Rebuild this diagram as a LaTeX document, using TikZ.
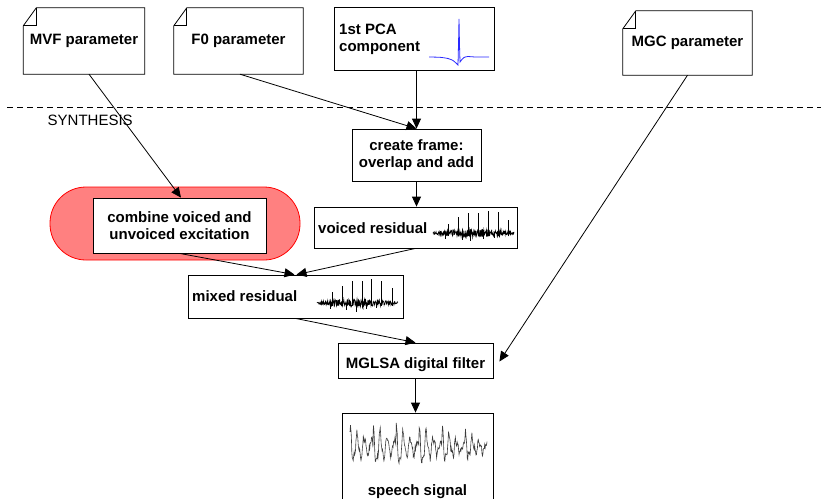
\documentclass[tikz,border=0pt]{standalone}
\usepackage{fontspec}
\setmainfont{Liberation Sans}
\usetikzlibrary{arrows.meta}
\definecolor{pillred}{RGB}{255,128,128}
\definecolor{pcablue}{RGB}{40,40,255}
\definecolor{speechgray}{RGB}{60,60,60}
\begin{document}
\begin{tikzpicture}[x=1pt,y=-1pt,
  declare function={ph(\t)=mod(\t-350,23)/23;},
  boxline/.style={draw=black,line width=0.8pt},
  box/.style={boxline,fill=white,inner sep=3pt,font=\fontsize{15}{17}\selectfont\bfseries,align=center},
  note/.style={inner sep=0pt,font=\fontsize{15}{17}\selectfont\bfseries,align=center},
  lab/.style={inner sep=0pt,font=\fontsize{15}{17}\selectfont\bfseries,align=left},
  conn/.style={line width=0.8pt,-{Triangle[length=10pt,width=9pt]}},
  wave/.style={line width=0.7pt},
]
\useasboundingbox (0,0) rectangle (821,498);
\clip (0,0) rectangle (821,498);

% dashed separator and label
\draw[line width=0.8pt,dash pattern=on 6pt off 4pt] (7,107.5) -- (821,107.5);
\node[anchor=west,inner sep=0pt,font=\fontsize{15}{17}\selectfont] (synth) at (47.5,120) {SYNTHESIS};

% note (parameter) boxes
\node[note,minimum width=121pt,minimum height=66pt] (mvf) at (84,41) {MVF parameter};
\node[note,minimum width=129pt,minimum height=66pt] (f0) at (238.5,41) {F0 parameter};
\node[note,minimum width=129pt,minimum height=64pt] (mgc) at (687.5,43) {MGC parameter};
\foreach \n in {mvf,f0,mgc}{
  \draw[boxline,line join=miter] ([yshift=-18pt]\n.north west) -- ([xshift=13pt]\n.north west) -- (\n.north east) -- (\n.south east) -- (\n.south west) -- cycle;
  \draw[boxline] ([yshift=-18pt]\n.north west) -- ([xshift=13pt,yshift=-18pt]\n.north west) -- ([xshift=13pt]\n.north west);
}

% PCA box
\node[boxline,minimum width=160pt,minimum height=63pt,inner sep=0pt] (pca) at (414,38.5) {};
\node[lab,anchor=west] (pcalab) at (339,39.5) {1st PCA\\component};
\draw[pcablue,line width=0.8pt] plot[smooth,tension=0.4] coordinates {(429,57) (440,57.3) (448,58.5) (453,60.5) (456.5,63.5) (458,65)} -- (458.6,40) -- (459,19) -- (459.5,45) -- (460,62) -- (461.5,60) plot[smooth,tension=0.4] coordinates {(461.5,60) (464,57.5) (468,56.5) (475,57) (489,57)};

% red pill
\node[draw=red,fill=pillred,line width=0.8pt,rounded corners=36pt,minimum width=250pt,minimum height=73pt,inner sep=0pt] (pill) at (175,223.5) {};
\node[box,minimum width=173pt,minimum height=55pt] (combine) at (179.5,225.5) {combine voiced and\\unvoiced excitation};

% create frame
\node[box,minimum width=129pt,minimum height=52pt] (frame) at (416.5,155) {create frame:\\overlap and add};

% voiced residual
\node[boxline,minimum width=203pt,minimum height=41pt,inner sep=0pt] (voiced) at (415.5,227.5) {};
\node[lab,anchor=west] (voicedlab) at (318,228) {voiced residual};
\pgfmathsetseed{7}
\draw[wave] plot[domain=433:514,samples=240] (\x,{233+(1.3+2.6*sin(180*(\x-433)/81))*rand});
\foreach \sx/\sy in {448/224,458/217,468/213,478/213,488/211,498/212,508/220}{
  \draw[wave] (\sx,236) -- (\sx,\sy);
}
\foreach \sx/\sy in {445/239,462/240,470/241,483/239,494/238}{
  \draw[wave] (\sx,233) -- (\sx,\sy);
}

% mixed residual
\node[boxline,minimum width=215pt,minimum height=43pt,inner sep=0pt] (mixed) at (295.5,296.5) {};
\node[lab,anchor=west] (mixedlab) at (192,296.5) {mixed residual};
\pgfmathsetseed{11}
\draw[wave] plot[domain=317:398,samples=240] (\x,{303+(1.3+2.6*sin(180*(\x-317)/81))*rand});
\foreach \sx/\sy in {332/292,342/286,352/281,362/281,371/279,381/281,392/288}{
  \draw[wave] (\sx,306) -- (\sx,\sy);
}
\foreach \sx/\sy in {330/309,346/310,356/312,366/309,376/308}{
  \draw[wave] (\sx,303) -- (\sx,\sy);
}

% MGLSA filter
\node[boxline,minimum width=155pt,minimum height=35pt,inner sep=0pt] (mglsa) at (415.5,360.5) {};
\node[lab,anchor=center] (mglsalab) at (415.5,365) {MGLSA digital filter};

% speech signal
\node[boxline,minimum width=151pt,minimum height=110pt,inner sep=0pt] (speech) at (417.5,468) {};
\node[lab,anchor=center] (speechlab) at (417.5,492) {speech signal};
\pgfmathsetseed{5}
\draw[speechgray,line width=0.6pt] plot[domain=350:487,samples=300] (\x,{447-(15+4*sin(2*(\x-350)))*exp(-1.1*ph(\x))*cos(1152*ph(\x))-7*sin(2700*ph(\x))*exp(-1.4*ph(\x))+3*rand});

% connectors
\draw[conn] ([xshift=5pt]mvf.south) -- ([xshift=1.5pt]combine.north);
\draw[conn] ([xshift=1.5pt]f0.south) -- (frame.north);
\draw[conn] (frame.north |- pca.south) -- (frame.north);
\draw[conn] (frame.south) -- (frame.south |- voiced.north);
\draw[conn] (combine.south) -- ([xshift=-1pt]mixed.north);
\draw[conn] (voiced.south) -- ([xshift=1pt]mixed.north);
\draw[conn] (mixed.south) -- (mglsa.north);
\draw[conn] (mgc.south) -- ([xshift=6pt,yshift=-1pt]mglsa.east);
\draw[conn] (mglsa.south) -- (mglsa.south |- speech.north);
\end{tikzpicture}
\end{document}
